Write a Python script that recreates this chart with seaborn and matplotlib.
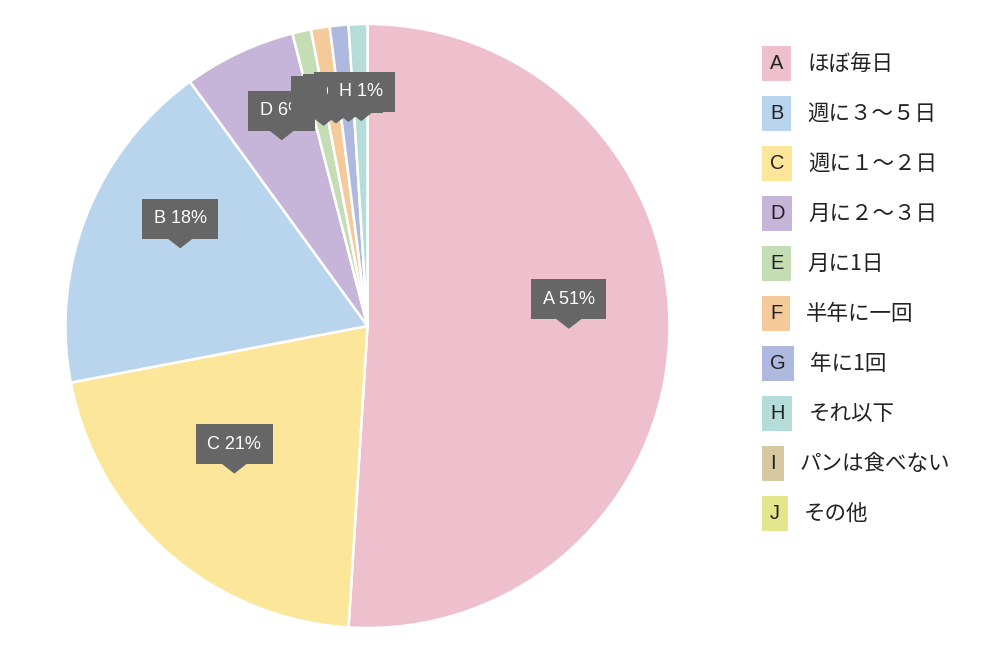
import numpy as np
import matplotlib
matplotlib.use("Agg")
import matplotlib.pyplot as plt
import matplotlib.transforms as mtransforms
from matplotlib.patches import Polygon
import seaborn as sns

# ---- data ----
letters = ["A", "B", "C", "D", "E", "F", "G", "H", "I", "J"]
names = ["ほぼ毎日", "週に３～５日", "週に１～２日", "月に２～３日", "月に1日",
         "半年に一回", "年に1回", "それ以下", "パンは食べない", "その他"]
values = [51, 18, 21, 6, 1, 1, 1, 1, 0, 0]
colors = ["#EEC0CD", "#B9D5EE", "#FBE699", "#C6B5D8", "#C4DDB4",
          "#F4CA9B", "#AFB9DF", "#B4DDD9", "#D8C89F", "#E3E68C"]

sns.set_theme(style="white")
plt.rcParams["font.family"] = ["Liberation Sans", "DejaVu Sans"]
palette = sns.color_palette(colors)

fig = plt.figure(figsize=(10, 6.57), dpi=100)
W, H = 1000, 657
cx, cy, R = 367.5, 326, 302
ax = fig.add_axes([(cx - R) / W, (H - cy - R) / H, 2 * R / W, 2 * R / H])

# pie sorted descending, zero slices omitted
order = sorted([i for i in range(len(values)) if values[i] > 0],
               key=lambda i: -values[i])
pv = [values[i] for i in order]
pc = [palette[i] for i in order]
wedges, _ = ax.pie(pv, colors=pc, startangle=90, counterclock=False,
                   radius=1, wedgeprops=dict(edgecolor="white", linewidth=1.8))
ax.set_xlim(-1, 1)
ax.set_ylim(-1, 1)
ax.set_aspect("equal")
ax.axis("off")

total = sum(pv)
box_col = "#666666"
lift = 3.5  # pixels
for w, i in zip(wedges, order):
    mid = np.deg2rad((w.theta1 + w.theta2) / 2)
    tx, ty = 0.667 * np.cos(mid), 0.667 * np.sin(mid)
    tr = mtransforms.Affine2D() + mtransforms.ScaledTranslation(tx, ty, ax.transData)
    tri = Polygon([(-13.5, 10.5 + lift), (13.5, 10.5 + lift), (0, lift)], closed=True,
                  transform=tr, facecolor=box_col, edgecolor="none", zorder=5)
    ax.add_patch(tri)
    pct = round(values[i] / total * 100)
    ax.annotate(f"{letters[i]} {pct}%", xy=(tx, ty), xytext=(0, 29.5 + lift),
                textcoords="offset pixels", ha="center", va="center",
                color="white", fontsize=13, zorder=6,
                bbox=dict(boxstyle="square,pad=0.64", facecolor=box_col,
                          edgecolor="none"))

# legend
cjk = ["Noto Sans CJK JP", "DejaVu Sans"]
for k, (L, nm, c) in enumerate(zip(letters, names, palette)):
    yc = 1 - (63.5 + 50 * k) / H
    t = fig.text(770 / W, yc, L, ha="left", va="center", fontsize=14.4,
                 color="#222222",
                 bbox=dict(boxstyle="square,pad=0.4", facecolor=c, edgecolor="none"))
    ax.annotate(nm, xy=(1, 0.5), xycoords=t, xytext=(24, 0),
                textcoords="offset pixels", ha="left", va="center",
                fontsize=15.5, family=cjk, color="#222222",
                annotation_clip=False)

fig.savefig("out.png", dpi=100)
